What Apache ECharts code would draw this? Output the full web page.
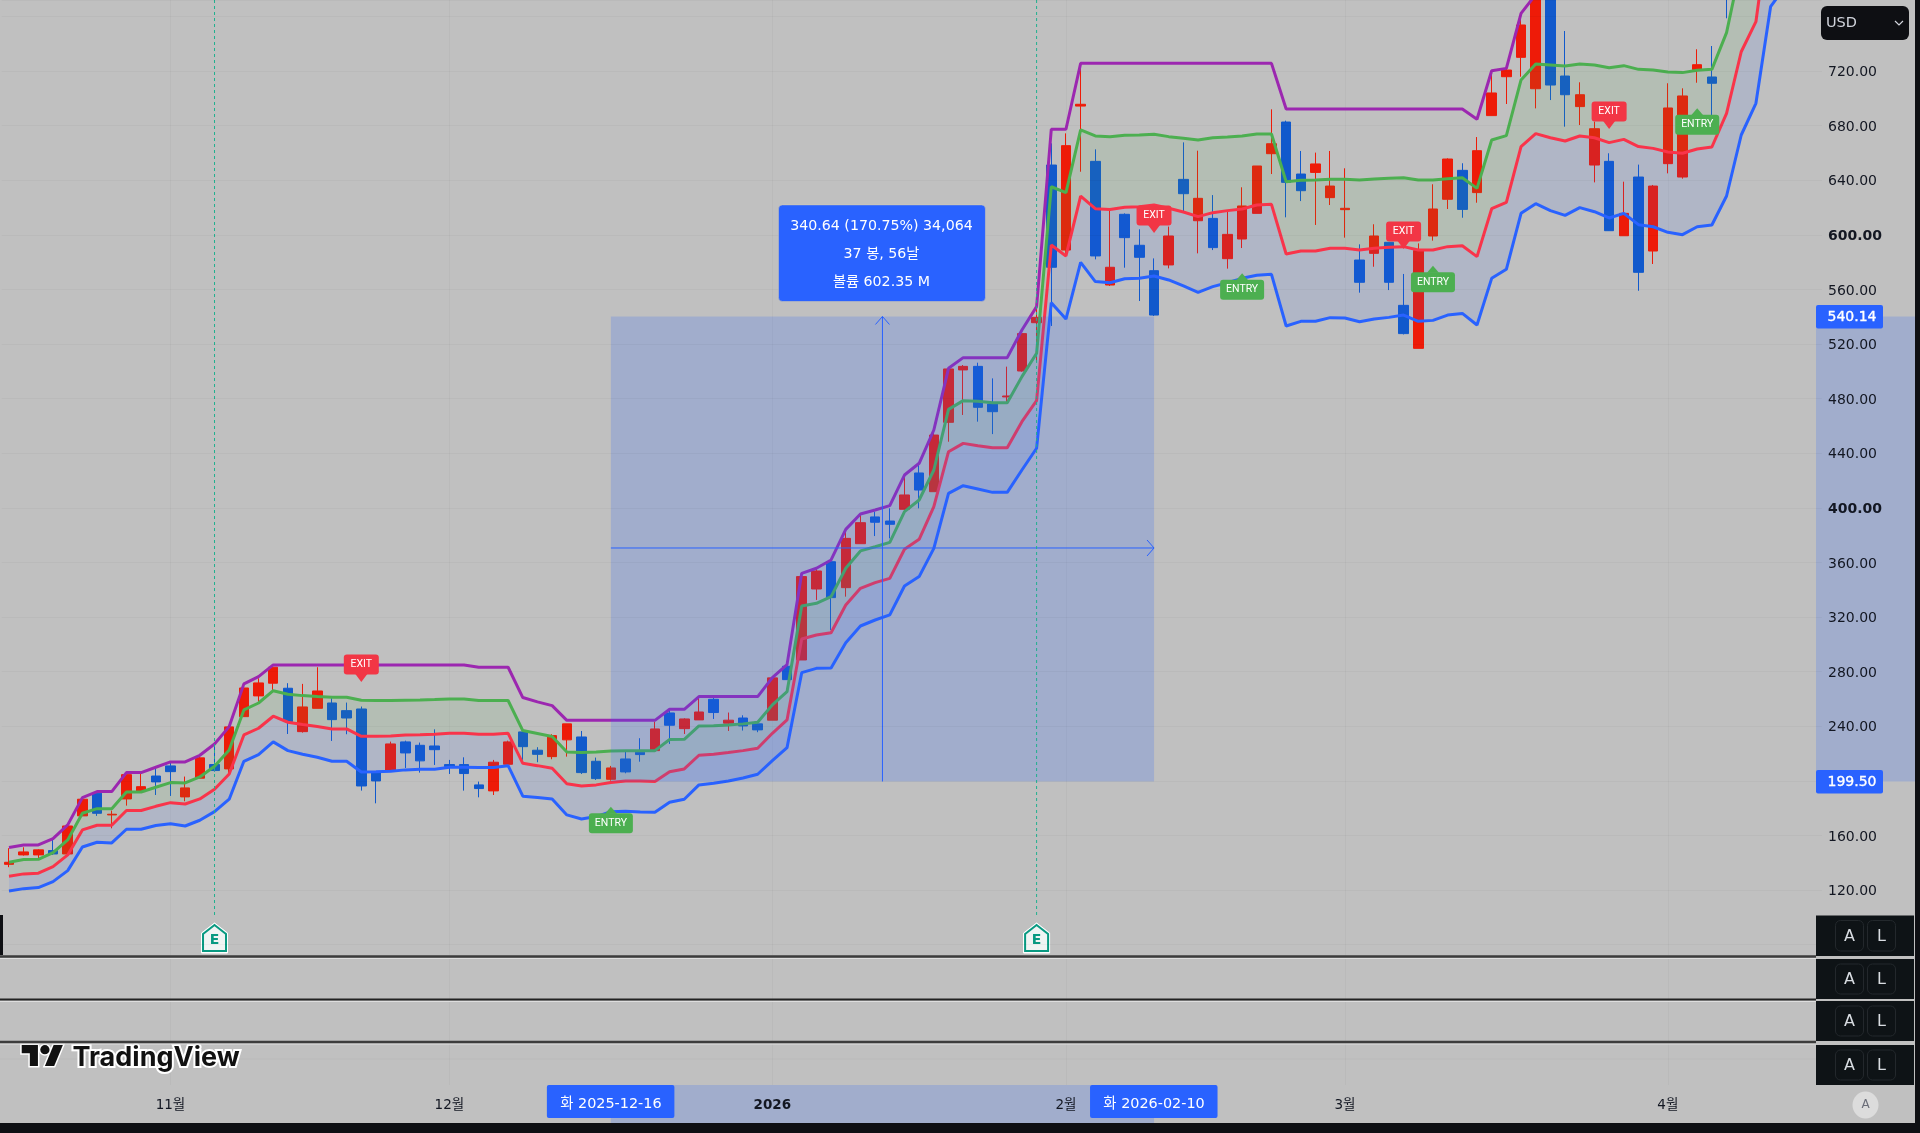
<!DOCTYPE html>
<html><head><meta charset="utf-8"><style>html,body{margin:0;padding:0;background:#c0c0c0}#c{width:1920px;height:1133px}</style>
<script src="https://cdn.jsdelivr.net/npm/echarts@6/dist/echarts.min.js"></script></head>
<body><div id="c"></div>
<script>
const dates=['2025-10-17','2025-10-20','2025-10-21','2025-10-22','2025-10-23','2025-10-24','2025-10-27','2025-10-28','2025-10-29','2025-10-30','2025-10-31',
'2025-11-03','2025-11-04','2025-11-05','2025-11-06','2025-11-07','2025-11-10','2025-11-11','2025-11-12','2025-11-13','2025-11-14','2025-11-17','2025-11-18','2025-11-19','2025-11-20','2025-11-21','2025-11-24','2025-11-25','2025-11-26','2025-11-28',
'2025-12-01','2025-12-02','2025-12-03','2025-12-04','2025-12-05','2025-12-08','2025-12-09','2025-12-10','2025-12-11','2025-12-12','2025-12-15','2025-12-16','2025-12-17','2025-12-18','2025-12-19','2025-12-22','2025-12-23','2025-12-24','2025-12-26','2025-12-29','2025-12-30','2025-12-31',
'2026-01-02','2026-01-05','2026-01-06','2026-01-07','2026-01-08','2026-01-09','2026-01-12','2026-01-13','2026-01-14','2026-01-15','2026-01-16','2026-01-20','2026-01-21','2026-01-22','2026-01-23','2026-01-26','2026-01-27','2026-01-28','2026-01-29','2026-01-30',
'2026-02-02','2026-02-03','2026-02-04','2026-02-05','2026-02-06','2026-02-09','2026-02-10','2026-02-11','2026-02-12','2026-02-13','2026-02-17','2026-02-18','2026-02-19','2026-02-20','2026-02-23','2026-02-24','2026-02-25','2026-02-26','2026-02-27',
'2026-03-02','2026-03-03','2026-03-04','2026-03-05','2026-03-06','2026-03-09','2026-03-10','2026-03-11','2026-03-12','2026-03-13','2026-03-16','2026-03-17','2026-03-18','2026-03-19','2026-03-20','2026-03-23','2026-03-24','2026-03-25','2026-03-26','2026-03-27','2026-03-30','2026-03-31',
'2026-04-01','2026-04-02','2026-04-06','2026-04-07','2026-04-08','2026-04-09','2026-04-10','2026-04-13','2026-04-14','2026-04-15','2026-04-16'];

// [open, close, low, high]
const candles=[[138.8,140.3,136.7,150.6],[145.7,147.9,145.2,151.3],[145.7,149.4,143.2,149.8],[148.9,146.4,145.7,157.2],[146.4,166.9,146.4,166.9],[174.3,186.5,174.3,186.5],[190.9,176.2,174.3,192.1],[175,175.5,165.2,178.2],[186.7,204.5,181.8,206],[192.1,195.7,192.1,205.5],
[203.5,199.2,189.6,209.2],[210.9,206.7,188.9,213.3],[188.2,194.8,185,203.1],[201.9,216.8,201.9,217.7],[211.9,207.5,206.7,227.5],[208.7,239.5,205.5,239.5],[247,268,247,268],[262.2,271.7,258,275.1],[271.5,283.2,266.6,283.7],[267.8,243.4,234.3,271.5],
[236,254.1,235.3,271],[253.1,265.8,253.1,283.2],[257,244.8,229.2,260.5],[251.4,246,234.1,257.3],[252.6,196.2,192.8,254.4],[206.2,199.9,183.5,206.2],[207.5,227,207.5,228.7],[228.5,220.4,209.4,229.4],[226,214.6,206,228],[225.5,222.8,211.6,237.7],
[211.9,210.4,205,215.3],[211.9,205.3,192.8,217.2],[197,194.3,187.9,199.4],[192.6,213.6,189.6,215.3],[212.1,228.5,212.1,229.4],[235.8,225,215.3,235.8],[222.4,219.4,213.6,224.6],[217.7,233.1,215.8,234.1],[230,241.7,217.7,241.7],[232.1,206,205,236.5],
[214.3,201.6,200.6,217],[201.1,209.4,200.1,210.9],[216,206.5,205.5,221.4],[220.9,219.2,214,231.2],[222.1,238,222.1,243.4],[249.7,240.7,227,253.1],[238.2,245.3,234.3,245.8],[244.6,250.4,244.6,261.7],[259.7,250,245.3,261.2],[242.2,244.4,236.5,250],
[246,240.2,236.8,248],[241.7,237.3,235.6,242.2],[244.4,275.4,244.4,275.4],[283.9,274.1,273.9,284.9],[288.5,349.6,288.5,352],[340.5,353.7,332.5,355.7],[360.5,334.2,310.5,361.8],[341.5,377.6,334.9,383.7],[373.7,389.1,373.7,394.7],[393.3,389.4,379.3,397.2],
[390.3,387.9,377.6,399.6],[398.9,409.4,398.4,424],[425.5,413,399.6,431.3],[411.8,453.3,411.8,457],[462.6,501.7,448.4,502.9],[501,503.6,468,504.6],[503.6,473.6,463.1,506.3],[476,470.4,454,494.8],[481.2,481.9,476.5,503.4],[500.2,527.6,499.7,529],
[535.6,539.5,507,546.1],[651.1,576.2,533.2,667],[588.8,665.3,584,674.3],[694.3,695.6,646.2,725.6],[653.8,584.5,582,662.6],[563.2,576.2,562.5,619.4],[615,597.9,575.9,615.7],[592.3,583.5,551.5,604],[573.7,541.2,540.5,582.7],[577.9,599.1,575.4,606],
[640.6,630.1,616.9,667.7],[610.3,626.7,586.4,661.6],[612,590.6,588.8,629.1],[582.5,600.3,575.2,616.9],[596.9,621.1,590.3,634.8],[615.7,650.4,615.7,650.4],[659.4,666.7,644.5,691.9],[682.6,638.4,612.8,683.6],[644.5,632.3,624.7,661.4],[645.7,651.9,607.2,660.2],
[627.2,635.7,621.8,661.4],[618.4,619.4,597.9,648.7],[581.5,565.2,557.6,593],[586.4,599.1,576.6,607.7],[594.5,565.2,559.5,594.5],[548.3,527.6,527,571.3],[516.8,588.4,516.8,593.7],[599.1,618.9,595.7,637],[626,655.5,618.9,656],[647.2,618.6,612.5,652.4],
[630.9,661.6,623.5,671.6],[687.3,703.9,687.3,720.7],[715.8,720.7,695.8,722],[730,753.7,715.8,758.6],[707,795,692.6,800],[790,709.7,698.7,800],[716.3,702.6,679.2,749.3],[693.9,702.6,680.4,711.7],[651.1,677.7,638.4,682.9],[653.8,603,602.8,659.7],
[599.3,615.7,599.3,638.9],[642.3,572.5,559,651.4],[588.1,635.7,578.6,636.5],[652.1,692.9,645,711],[642.3,701.7,641.1,707.3],[721,724.6,711.4,735.9],[715.6,711,686.5,738.3],[790,775,758.6,800]];

const bandTop=[151.1,153,153,157.7,167.7,187.7,192.1,192.1,206,206,209.9,213.8,213.8,218.7,227,239.7,271,276.3,284.9,
284.9,284.9,284.9,284.9,284.9,284.9,284.9,284.9,284.9,284.9,284.9,284.9,284.9,283.2,283.2,283.2,261,257.8,255.1,244.3,
244.3,244.3,244.3,244.3,244.3,244.3,252.4,252.4,261.7,261.7,261.7,261.7,261.7,275.6,285.1,352,355.7,361.8,384.2,395.5,398.4,401.6,424,432.6,457,502.2,510,510,510,510,530.2,547.4,
677.3,677.3,725.6,725.6,725.6,725.6,725.6,725.6,725.6,725.6,725.6,725.6,725.6,725.6,725.6,725.6,692.1,692.1,692.1,692.1,692.1,692.1,692.1,692.1,692.1,692.1,692.1,692.1,692.1,
684.6,720.2,721.9,762.2,776];
const bandMid=[140.3,142.3,142.5,147.4,156.7,176.2,179.6,179.6,191.8,191.8,195.3,198.7,198.4,202.8,210.6,222.6,251.9,257,266,263.4,262.4,261.7,261.2,261.2,259,258.8,258.8,259,259.2,259.5,260,260,258.8,258.8,258.8,236.8,234.6,232.4,221.1,220.7,221.1,
221.9,222.1,222.1,222.1,230.2,230.4,240.2,240.4,240.9,241.7,242.9,255.6,265.3,328.1,330,334.9,355.7,368.4,371.5,374.7,397.2,405.7,427.7,472.1,478.5,478,477,477,496.1,513.2,
635.2,630.9,676.8,672.4,671.9,672.9,673.1,673.6,671.9,670.7,669.4,671.1,671.6,672.4,673.8,673.8,638.9,639.9,640.1,640.6,640.6,640.1,640.9,641.4,641.8,640.1,640.1,641.1,641.8,
634,669.4,672.6,713.4,725.1,724.4,723.6,725.1,724.4,722.4,723.9,721.2,720.7,719.3,718.8,720.5,721.2,748.1,799,860,900,920];
const bandLow=[130.1,131.8,132.3,137.1,145.7,164,167.4,167.4,178.2,178.2,181.3,184,183,186.7,193.8,205,233.6,238.5,247.3,242.9,241.2,239.7,238,238,232.6,232.6,232.9,233.6,233.8,234.1,234.8,234.8,234.1,234.1,234.8,212.8,211.1,209.2,197.9,196.2,197,
198.7,199.9,199.9,199.4,206.7,208.7,218.7,219.4,220.7,222.1,223.8,234.8,244.6,303.9,306.8,308.5,328.8,341,345.2,348.3,369.6,376.9,400.8,441.1,447.2,445.5,444,444,463.1,478.5,
592.5,584.5,628.4,619.1,618.6,620.1,620.6,621.8,619.4,616.7,613.3,616.2,617.7,618.9,621.8,622.3,585.9,588.1,588.1,590.1,590.1,588.9,590.1,590.8,591.3,588.9,588.9,591.3,592,
584,619.1,623.8,664.6,674.1,671.1,668.7,672.4,671.1,667.5,669.9,664.6,663.3,660.6,659.7,662.8,664.3,689,734.1,756.1,835,860];
const bandFloor=[119.3,121,121.8,126.1,134.2,151.5,155,154.5,164.5,164.5,167.2,168.6,166.9,171.1,177.4,186.5,214.3,219.2,228.5,222.1,219.4,217.2,214.3,214.3,206.5,206.7,207,208,208.4,208.4,209.9,209.9,209.7,209.7,211.1,188.7,187.7,186.7,175,172,173.8,
177.4,177.7,177.2,177,184.3,186.5,197,198.2,199.9,202.1,204.8,214.8,224.3,279.2,282.4,282.6,301.2,313.4,317.8,321.5,342.7,349.6,370.3,410.6,416.2,413.8,411.3,411.3,427.7,443.6,
550.3,538.3,579.8,565.7,564.9,567.8,568.1,569.8,566.9,562.5,557.8,562,564.9,568.1,570.3,571,533.2,536.6,536.6,539.3,539,536.3,538.3,539.5,541.2,536.6,537.3,541.2,542.4,
533.9,568.1,574.7,615.7,622.8,617.7,614.2,619.9,616.9,612.3,615.7,607.4,605.9,601.8,600.1,605.9,607.2,628.4,673.1,696.3,767.1,782];

const timeLabels={11:'11월',30:'12월',52:'2026',72:'2월',91:'3월',113:'4월'};
const earningsBars=[14,70];
const signalBars=[24,41,78,84,95,97,109,115];
const signalPrices=[272.4,181,601.3,571.8,589.6,577.4,677.5,692.7];
const signalTypes=['EXIT','ENTRY','EXIT','ENTRY','EXIT','ENTRY','EXIT','ENTRY'];
const rangeFrom=41, rangeTo=78, rangeLow=199.5, rangeHigh=540.14;
const rangeLines=['340.64 (170.75%) 34,064','37 봉, 56날','볼륨 602.35 M'];
const rangeDates=['화 2025-12-16','화 2026-02-10'];
const priceTags=['199.50','540.14'];

const UI='"DejaVu Sans","Noto Sans CJK KR",sans-serif';
const BLUE='#2962ff', GRIDC='rgba(0,0,0,0.03)';
const T=(text,x,y,font,fill,align,stroke)=>({type:'text',style:{text,x,y,font,fill,stroke:stroke||null,lineWidth:stroke?.35:0,textAlign:align||'center',align:align||'center',textVerticalAlign:'middle',verticalAlign:'middle'}});

const chart=echarts.init(document.getElementById('c'),null,{renderer:'canvas'});
const isTime=(i)=>timeLabels[i]!==undefined;
const CELL=14.68, LEFT=1.66, N=dates.length, GW=CELL*N, PANE=944.6;

const diff=(a,b)=>a.map((v,i)=>v-b[i]);
const lineS=(name,data,color)=>({name,type:'line',data,symbol:'none',z:4,lineStyle:{color,width:3},silent:true});
const fillS=(name,data,color)=>({name,type:'line',stack:'band',data,symbol:'none',z:3,lineStyle:{width:0,opacity:0},areaStyle:color?{color,opacity:1}:undefined,silent:true});

const option={
 animation:false,backgroundColor:'#c0c0c0',
 grid:[{left:LEFT,top:0,width:GW,height:PANE},{left:LEFT,top:PANE,width:GW,height:1085-PANE}],
 xAxis:[
  {type:'category',gridIndex:0,data:dates,axisLine:{show:false},axisTick:{show:false},axisLabel:{show:false},
   splitLine:{show:true,alignWithLabel:true,interval:(i)=>isTime(i),lineStyle:{color:GRIDC,width:1}}},
  {type:'category',gridIndex:1,data:dates,z:20,axisLine:{show:false},axisTick:{show:false},
   axisLabel:{show:true,interval:(i)=>isTime(i),margin:14,hideOverlap:false,
     formatter:(v,i)=>i===52?'{b|'+timeLabels[i]+'}':'{n|'+timeLabels[i]+'}',
     rich:{n:{fontFamily:UI,fontSize:13.5,color:'#131722'},b:{fontFamily:UI,fontSize:13.5,fontWeight:'bold',color:'#131722'}}},
   splitLine:{show:true,alignWithLabel:true,interval:(i)=>isTime(i),lineStyle:{color:GRIDC,width:1}}}
 ],
 yAxis:[
  {type:'value',gridIndex:0,position:'right',min:80,max:772,interval:40,z:20,axisLine:{show:false},axisTick:{show:false},
   axisLabel:{margin:6,showMaxLabel:false,showMinLabel:true,
     formatter:(v)=>{const s=v.toFixed(2);return (v===400||v===600)?'{b|'+s+'}':'{n|'+s+'}';},
     rich:{n:{fontFamily:UI,fontSize:14,color:'#131722',padding:[3,0,0,0]},b:{fontFamily:UI,fontSize:14,fontWeight:'bold',color:'#131722',padding:[4,0,0,0]}}},
   splitLine:{show:true,lineStyle:{color:GRIDC,width:1}}},
  {type:'value',gridIndex:1,show:false,min:0,max:1,splitLine:{show:false}}
 ],
 series:[
  {name:'price',type:'candlestick',data:candles,xAxisIndex:0,yAxisIndex:0,barWidth:10,z:2,silent:true,
   itemStyle:{color:'#ee1b08',color0:'#1159cc',borderColor:'#ee1b08',borderColor0:'#1159cc',borderWidth:1}},
  fillS('floor',bandFloor,null),
  fillS('lowFill',diff(bandLow,bandFloor),'rgba(41,98,255,0.10)'),
  fillS('midFill',diff(bandMid,bandLow),'rgba(76,175,80,0.10)'),
  lineS('top',bandTop.concat(Array(122-bandTop.length).fill(800)),'#9c27b0'),
  lineS('low',bandLow,'#f9344a'),
  lineS('floorLine',bandFloor,BLUE),
  lineS('mid',bandMid,'#4caf50'),
  {name:'earnings',type:'custom',data:earningsBars.map(b=>[b]),z:6,silent:true,clip:false,
   renderItem:(p,api)=>{
     const a=api.coord([api.value(0),772]),b=api.coord([api.value(0),99.5]);
     const x=a[0],t=924,bot=952;
     return {type:'group',children:[
       {type:'line',shape:{x1:x,y1:a[1],x2:x,y2:b[1]},style:{stroke:'#1fb08f',lineWidth:1,lineDash:[3,3]}},
       {type:'polygon',shape:{points:[[x,t-1],[x+13,t+9],[x+13,bot+1],[x-13,bot+1],[x-13,t+9]]},style:{fill:'#fff',stroke:'#fff',lineWidth:1}},
       {type:'polygon',shape:{points:[[x,t+1],[x+11.5,t+10],[x+11.5,bot-1],[x-11.5,bot-1],[x-11.5,t+10]]},style:{fill:'#f0f4f3',stroke:'#089981',lineWidth:2}},
       T('E',x,t+16.5,'bold 14px '+UI,'#089981')
     ]};
   }},
  {name:'rangeArea',type:'custom',data:[[rangeFrom,rangeTo,rangeLow,rangeHigh]],z:5,silent:true,clip:false,
   renderItem:(p,api)=>{
     const a=api.coord([api.value(0),api.value(3)]),b=api.coord([api.value(1),api.value(2)]);
     const xm=(a[0]+b[0])/2,ym=(a[1]+b[1])/2-1,fill='rgba(41,98,255,0.20)';
     return {type:'group',children:[
       {type:'rect',shape:{x:a[0],y:a[1],width:b[0]-a[0],height:b[1]-a[1]},style:{fill}},
       {type:'rect',shape:{x:1816,y:a[1],width:99,height:b[1]-a[1]},style:{fill}},
       {type:'rect',shape:{x:a[0],y:1085,width:b[0]-a[0],height:38},style:{fill}},
       {type:'line',shape:{x1:xm,y1:a[1],x2:xm,y2:b[1]},style:{stroke:BLUE,lineWidth:1}},
       {type:'line',shape:{x1:a[0],y1:ym,x2:b[0],y2:ym},style:{stroke:BLUE,lineWidth:1}},
       {type:'polyline',shape:{points:[[xm-7,a[1]+8],[xm,a[1]],[xm+7,a[1]+8]]},style:{stroke:BLUE,lineWidth:1,fill:'none'}},
       {type:'polyline',shape:{points:[[b[0]-7,ym-8],[b[0],ym],[b[0]-7,ym+8]]},style:{stroke:BLUE,lineWidth:1,fill:'none'}}
     ]};
   }},
  {name:'rangeBadges',type:'custom',data:[[rangeFrom,rangeTo,rangeLow,rangeHigh]],z:25,silent:true,clip:false,
   renderItem:(p,api)=>{
     const a=api.coord([api.value(0),api.value(3)]),b=api.coord([api.value(1),api.value(2)]);
     const xm=(a[0]+b[0])/2,boxT=a[1]-111.6;
     const ch=[{type:'rect',shape:{x:xm-104,y:boxT,width:207,height:96.6,r:4},style:{fill:BLUE,stroke:'#d8cdb0',lineWidth:.5}}];
     rangeLines.forEach((s,i)=>ch.push(T(s,xm-1,boxT+21.5+i*27.8,'14.2px '+UI,'#fff')));
     [[b[1],priceTags[0]],[a[1],priceTags[1]]].forEach(([y,s])=>{
       ch.push({type:'rect',shape:{x:1816,y:y-11.5,width:67,height:23.5,r:2},style:{fill:BLUE}});
       ch.push(T(s,1827.5,y+1,'14px '+UI,'#fff','left','#fff'));
     });
     [[a[0],rangeDates[0]],[b[0],rangeDates[1]]].forEach(([x,s])=>{
       ch.push({type:'rect',shape:{x:x-64,y:1085,width:127.5,height:33,r:2},style:{fill:BLUE}});
       ch.push(T(s,x,1104,'14.4px '+UI,'#fff'));
     });
     return {type:'group',children:ch};
   }},
  {name:'signals',type:'custom',data:signalBars.map((b,i)=>[b,signalPrices[i]]),z:30,silent:true,clip:false,
   renderItem:(p,api)=>{
     const c=api.coord([api.value(0),api.value(1)]),x=c[0],y=c[1];
     const exit=signalTypes[p.dataIndex]==='EXIT';
     const w=exit?35:44,h=20,fill=exit?'#f23645':'#4caf50';
     const top=exit?y-7.5-h:y+6.5;
     const tri=exit?[[x-6,top+h-.5],[x+6,top+h-.5],[x,y]]:[[x-6,top+.5],[x+6,top+.5],[x,y]];
     return {type:'group',children:[
       {type:'rect',shape:{x:x-w/2,y:top,width:w,height:h,r:3},style:{fill}},
       {type:'polygon',shape:{points:tri},style:{fill}},
       T(signalTypes[p.dataIndex],x,top+h/2,'10.5px "Liberation Sans Narrow",Roboto,sans-serif','#fff')
     ]};
   }},
  {name:'pane',type:'line',xAxisIndex:1,yAxisIndex:1,data:[],silent:true}
 ],
 graphic:(()=>{
   const g=[];
   const rect=(x,y,w,h,fill,r,stroke)=>({type:'rect',z:100,shape:{x,y,width:w,height:h,r:r||0},style:{fill,stroke,lineWidth:stroke?1:0}});
   const txt=(s,x,y,font,fill,align)=>({type:'text',z:101,style:{text:s,x,y,font,fill,textAlign:align||'center',align:align||'center',textVerticalAlign:'middle',verticalAlign:'middle'}});
   g.push({type:'line',z:90,shape:{x1:0,y1:1059,x2:1816,y2:1059},style:{stroke:GRIDC,lineWidth:1}});
   [[956.5,2.5,'#3c3c3c'],[999.5,2,'#222'],[1042,2.5,'#3c3c3c']].forEach(([y,w,c])=>{
     g.push({type:'line',z:99,shape:{x1:0,y1:y+2,x2:1816,y2:y+2},style:{stroke:'#dedede',lineWidth:1}});
     g.push({type:'line',z:99,shape:{x1:0,y1:y,x2:1816,y2:y},style:{stroke:c,lineWidth:w}});
   });
   g.push(rect(0,915,3,40,'#0e0f13'));
   [[915.5,40.5],[959,40],[1001,40],[1045,40]].forEach(([y,h])=>{
     g.push(rect(1816,y,98,h,'#0e1316'));
     g.push(rect(1835.5,y+5,28,h-10,'#0e1316',5,'#23282c'));
     g.push(rect(1867.5,y+5,28,h-10,'#0e1316',5,'#23282c'));
     g.push(txt('A',1849.5,y+h/2+1,'16px '+UI,'#d9dde2'));
     g.push(txt('L',1881.5,y+h/2+1,'16px '+UI,'#d9dde2'));
   });
   g.push(rect(1821,6,88,34,'#0e0f13',6));
   g.push(txt('USD',1826,23,'14.5px '+UI,'#d1d4dc','left'));
   g.push({type:'polyline',z:101,shape:{points:[[1895,21],[1899,25],[1903,21]]},style:{stroke:'#d1d4dc',lineWidth:1.2,fill:'none'}});
   g.push({type:'ellipse',z:100,shape:{cx:1865.5,cy:1105,rx:13,ry:13.5},style:{fill:'#dcdcdc'}});
   g.push(txt('A',1865.5,1105,'12px '+UI,'#6a6d78'));
   g.push(rect(0,1123,1920,10,'#0e0f13'));
   g.push(rect(1915,0,5,1133,'#0e0f13'));
   // TradingView logo
   const LX=21.7,LY=1040.4,LS=1.16;
   const M=(pts)=>pts.map(([x,y])=>[LX+x*LS,LY+y*LS]);
   const stemPts=M([[0,4],[14,4],[14,22],[7,22],[7,11],[0,11]]), slashPts=M([[20,22],[28,22],[35.5,4],[27.5,4]]);
   [[stemPts,95,'#fff',3],[slashPts,95,'#fff',3],[stemPts,96,'#111',0],[slashPts,96,'#111',0]].forEach(([points,z,c,lw])=>{
     g.push({type:'polygon',z,shape:{points},style:{fill:c,stroke:lw?c:null,lineWidth:lw}});
   });
   g.push({type:'circle',z:95,shape:{cx:LX+20*LS,cy:LY+8*LS,r:4*LS},style:{fill:'#fff',stroke:'#fff',lineWidth:3}});
   g.push({type:'circle',z:96,shape:{cx:LX+20*LS,cy:LY+8*LS,r:4*LS},style:{fill:'#111'}});
   g.push({type:'text',z:96,style:{text:'TradingView',x:72.5,y:1058,font:'700 27px Inter,sans-serif',fill:'#111',stroke:'#fff',lineWidth:4,strokeFirst:true,textAlign:'left',align:'left',textVerticalAlign:'middle',verticalAlign:'middle'}});
   return g;
 })()
};
chart.setOption(option);
</script></body></html>
